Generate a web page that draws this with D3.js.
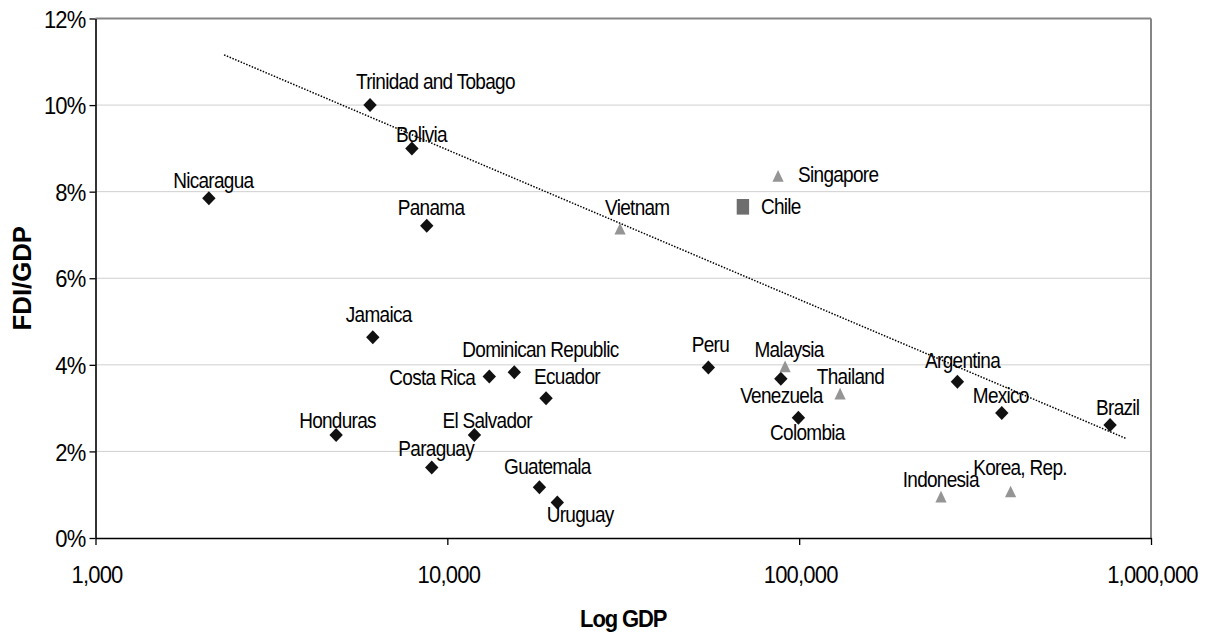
<!DOCTYPE html>
<html>
<head>
<meta charset="utf-8">
<script src="https://cdn.jsdelivr.net/npm/d3@7"></script>
<style>
  html, body { margin: 0; padding: 0; background: #fff; }
  svg { display: block; font-family: "Liberation Sans", Arial, sans-serif; }
</style>
</head>
<body>
<svg id="chart" width="1211" height="639"></svg>
<script>
// Countries, GDP (US$ millions, log axis) and FDI inflows as a share of GDP
const countries = [
  "Trinidad and Tobago", "Bolivia", "Nicaragua", "Panama", "Jamaica",
  "Honduras", "Paraguay", "El Salvador", "Costa Rica", "Dominican Republic",
  "Ecuador", "Guatemala", "Uruguay", "Peru", "Venezuela", "Colombia",
  "Argentina", "Mexico", "Brazil",
  "Vietnam", "Singapore", "Malaysia", "Thailand", "Indonesia", "Korea, Rep.",
  "Chile"
];
const gdp = [
  6030, 7930, 2100, 8740, 6140,
  4830, 9030, 11940, 13160, 15500,
  19080, 18270, 20540, 55200, 88700, 99500,
  281700, 376600, 765000,
  30970, 87100, 91200, 130700, 253000, 399000,
  69200
];
const fdiShare = [
  0.1000, 0.0900, 0.0785, 0.0721, 0.0464,
  0.0238, 0.0163, 0.0238, 0.0373, 0.0383,
  0.0323, 0.0117, 0.0082, 0.0394, 0.0368, 0.0278,
  0.0361, 0.0289, 0.0261,
  0.0714, 0.0836, 0.0396, 0.0333, 0.0095, 0.0107,
  0.0765
];
const region = [
  "latam", "latam", "latam", "latam", "latam",
  "latam", "latam", "latam", "latam", "latam",
  "latam", "latam", "latam", "latam", "latam", "latam",
  "latam", "latam", "latam",
  "asia", "asia", "asia", "asia", "asia", "asia",
  "chile"
];

// Logarithmic trend line end points (GDP, FDI share)
const trendGdp = [2320, 854000];
const trendFdi = [0.1116, 0.0229];

// Axis ticks
const xTicks = [1000, 10000, 100000, 1000000];
const yTicks = [0, 0.02, 0.04, 0.06, 0.08, 0.10, 0.12];

// Label placement relative to each marker (start of text, baseline)
const labelOffset = {
  "Trinidad and Tobago": [-14, -15.7],
  "Bolivia": [-16, -6.6],
  "Nicaragua": [-35.7, -9.7],
  "Panama": [-29, -11],
  "Jamaica": [-27, -15],
  "Honduras": [-37, -6.7],
  "Paraguay": [-33.4, -11.6],
  "El Salvador": [-32, -6.7],
  "Costa Rica": [-100, 8.3],
  "Dominican Republic": [-52, -15.6],
  "Ecuador": [-12, -14.3],
  "Guatemala": [-35.3, -13.3],
  "Uruguay": [-10.6, 19],
  "Peru": [-16.6, -15],
  "Venezuela": [-40.7, 24.6],
  "Colombia": [-28.3, 22.3],
  "Argentina": [-32.3, -13.4],
  "Mexico": [-29, -9.4],
  "Brazil": [-14, -10],
  "Vietnam": [-15, -14],
  "Singapore": [20, 5.7],
  "Malaysia": [-30.7, -10],
  "Thailand": [-23.3, -10],
  "Indonesia": [-38.3, -10],
  "Korea, Rep.": [-37.4, -16.7],
  "Chile": [18, 7]
};

const svg = d3.select("#chart");
const plot = { left: 95.5, right: 1151, top: 18.5, bottom: 538 };
const stretch = 1.12; // text is drawn slightly taller than its width

const x = d3.scaleLog().domain([1000, 1000000]).range([plot.left, plot.right]);
const y = d3.scaleLinear().domain([0, 0.12]).range([plot.bottom, plot.top]);

// Horizontal gridlines
svg.append("g")
  .selectAll("line")
  .data(yTicks.filter(t => t > 0 && t < 0.12))
  .join("line")
  .attr("x1", plot.left).attr("x2", plot.right)
  .attr("y1", d => y(d)).attr("y2", d => y(d))
  .attr("stroke", "#cfcfcf").attr("stroke-width", 1);

// Plot frame: grey top and right edges
svg.append("line")
  .attr("x1", plot.left).attr("x2", plot.right)
  .attr("y1", plot.top).attr("y2", plot.top)
  .attr("stroke", "#858585").attr("stroke-width", 2);
svg.append("line")
  .attr("x1", plot.right).attr("x2", plot.right)
  .attr("y1", plot.top).attr("y2", plot.bottom)
  .attr("stroke", "#858585").attr("stroke-width", 2);

// Axes
const yAxis = svg.append("g")
  .attr("transform", `translate(${plot.left},0)`)
  .call(d3.axisLeft(y).tickValues(yTicks).tickFormat(d3.format(".0%")).tickSize(6).tickSizeOuter(0));
const xAxis = svg.append("g")
  .attr("transform", `translate(0,${plot.bottom})`)
  .call(d3.axisBottom(x).tickValues(xTicks).tickFormat(d3.format(",")).tickSize(7).tickSizeOuter(0));

[yAxis, xAxis].forEach(g => {
  g.select(".domain").attr("stroke", "#000").attr("stroke-width", 1.6);
  g.selectAll(".tick line").attr("stroke", "#000").attr("stroke-width", 1.3);
  g.selectAll(".tick text")
    .attr("fill", "#000")
    .style("font-size", "22px")
    .style("letter-spacing", "-0.8px")
    .style("font-family", "'Liberation Sans', Arial, sans-serif")
    .attr("x", null).attr("y", null).attr("dy", null);
});
yAxis.selectAll(".tick text")
  .attr("text-anchor", "end")
  .attr("transform", `translate(-10,8.6) scale(1,${stretch})`);
xAxis.selectAll(".tick text")
  .attr("text-anchor", "middle")
  .attr("transform", `translate(1,45) scale(1,${stretch})`);

// Trend line
svg.append("line")
  .attr("x1", x(trendGdp[0])).attr("y1", y(trendFdi[0]))
  .attr("x2", x(trendGdp[1])).attr("y2", y(trendFdi[1]))
  .attr("stroke", "#000").attr("stroke-width", 1.5)
  .attr("stroke-dasharray", "1.5,1.5");

// Markers
const points = countries.map((c, i) => ({ name: c, gdp: gdp[i], fdi: fdiShare[i], region: region[i] }));
const markerShape = {
  latam: "M0,-7L6.7,0L0,7L-6.7,0Z",
  asia: "M0,-6L5.6,5.6L-5.6,5.6Z",
  chile: "M-6.2,-7.8H6.2V7.8H-6.2Z"
};
const markerFill = { latam: "#111111", asia: "#959595", chile: "#6e6e6e" };

svg.append("g")
  .selectAll("path")
  .data(points)
  .join("path")
  .attr("transform", d => `translate(${x(d.gdp)},${y(d.fdi)})`)
  .attr("d", d => markerShape[d.region])
  .attr("fill", d => markerFill[d.region]);

// Country labels
svg.append("g")
  .selectAll("text")
  .data(points)
  .join("text")
  .attr("transform", d => {
    const o = labelOffset[d.name];
    return `translate(${x(d.gdp) + o[0]},${y(d.fdi) + o[1]}) scale(1,${stretch})`;
  })
  .attr("fill", "#000")
  .style("font-size", "19px")
  .style("letter-spacing", "-0.7px")
  .text(d => d.name);

// Axis titles
svg.append("text")
  .attr("transform", `translate(${(plot.left + plot.right) / 2},627) scale(1,1.06)`)
  .attr("text-anchor", "middle")
  .style("font-size", "22px").style("font-weight", "bold")
  .style("letter-spacing", "-1.1px")
  .attr("fill", "#000")
  .text("Log GDP");
svg.append("text")
  .attr("transform", `translate(31,${(plot.top + plot.bottom) / 2}) scale(1.05,1.05) rotate(-90)`)
  .attr("text-anchor", "middle")
  .style("font-size", "24.5px").style("font-weight", "bold")
  .attr("fill", "#000")
  .text("FDI/GDP");
</script>
</body>
</html>
